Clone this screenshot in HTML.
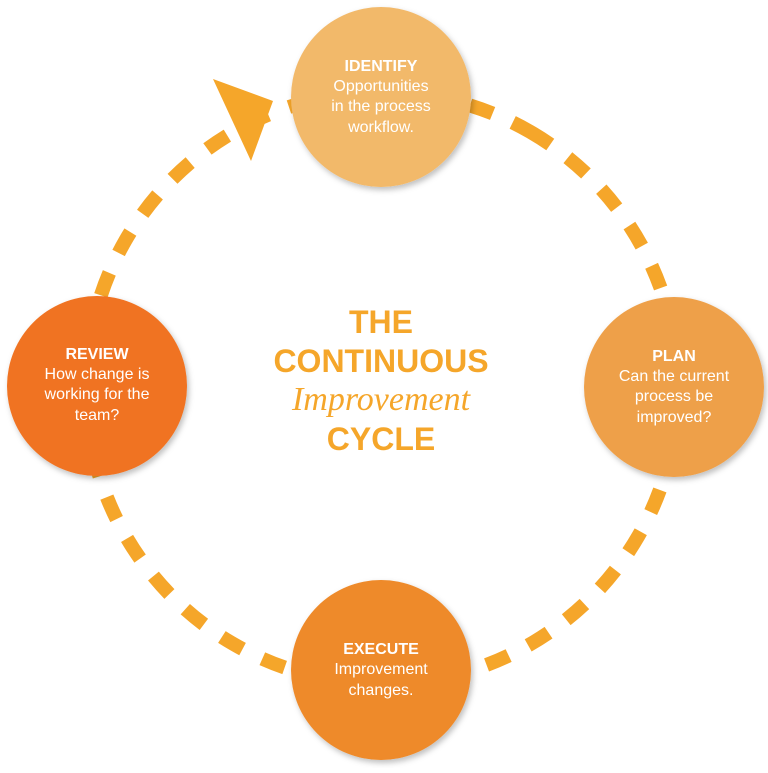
<!DOCTYPE html>
<html><head><style>
body{margin:0;width:768px;height:768px;background:#fff;overflow:hidden}
</style></head><body>
<svg width="768" height="768" viewBox="0 0 768 768" xmlns="http://www.w3.org/2000/svg">
<defs><filter id="s" x="-20%" y="-20%" width="140%" height="140%"><feDropShadow dx="2" dy="3" stdDeviation="3" flood-color="#000" flood-opacity="0.25"/></filter></defs>
<circle cx="382" cy="388" r="296" fill="none" stroke="#f5a62a" stroke-width="14" stroke-dasharray="24 22" transform="rotate(-60 382 388)"/>
<polygon points="213,79 273,101 251,161" fill="#f5a62a"/>
<g filter="url(#s)">
<circle cx="381" cy="97" r="90" fill="#f2b96b"/>
<circle cx="674" cy="387" r="90" fill="#eea04a"/>
<circle cx="381" cy="670" r="90" fill="#ee8a2a"/>
<circle cx="97" cy="386" r="90" fill="#f07322"/>
</g>
<g font-family="Liberation Sans, sans-serif" fill="#fff" text-anchor="middle" font-size="16">
<text x="381" y="71" font-weight="bold">IDENTIFY</text>
<text x="381" y="91">Opportunities</text>
<text x="381" y="111">in the process</text>
<text x="381" y="132">workflow.</text>
<text x="674" y="361" font-weight="bold">PLAN</text>
<text x="674" y="381">Can the current</text>
<text x="674" y="401">process be</text>
<text x="674" y="422">improved?</text>
<text x="381" y="654" font-weight="bold">EXECUTE</text>
<text x="381" y="674">Improvement</text>
<text x="381" y="695">changes.</text>
<text x="97" y="359" font-weight="bold">REVIEW</text>
<text x="97" y="379">How change is</text>
<text x="97" y="399">working for the</text>
<text x="97" y="420">team?</text>
</g>
<g font-family="Liberation Sans, sans-serif" fill="#f5a62a" text-anchor="middle" font-weight="bold">
<text x="381" y="333" font-size="32">THE</text>
<text x="381" y="372" font-size="32">CONTINUOUS</text>
<text x="381" y="410" font-size="34" font-style="italic" font-weight="normal" font-family="Liberation Serif, serif">Improvement</text>
<text x="381" y="450" font-size="32">CYCLE</text>
</g>
</svg>
</body></html>
